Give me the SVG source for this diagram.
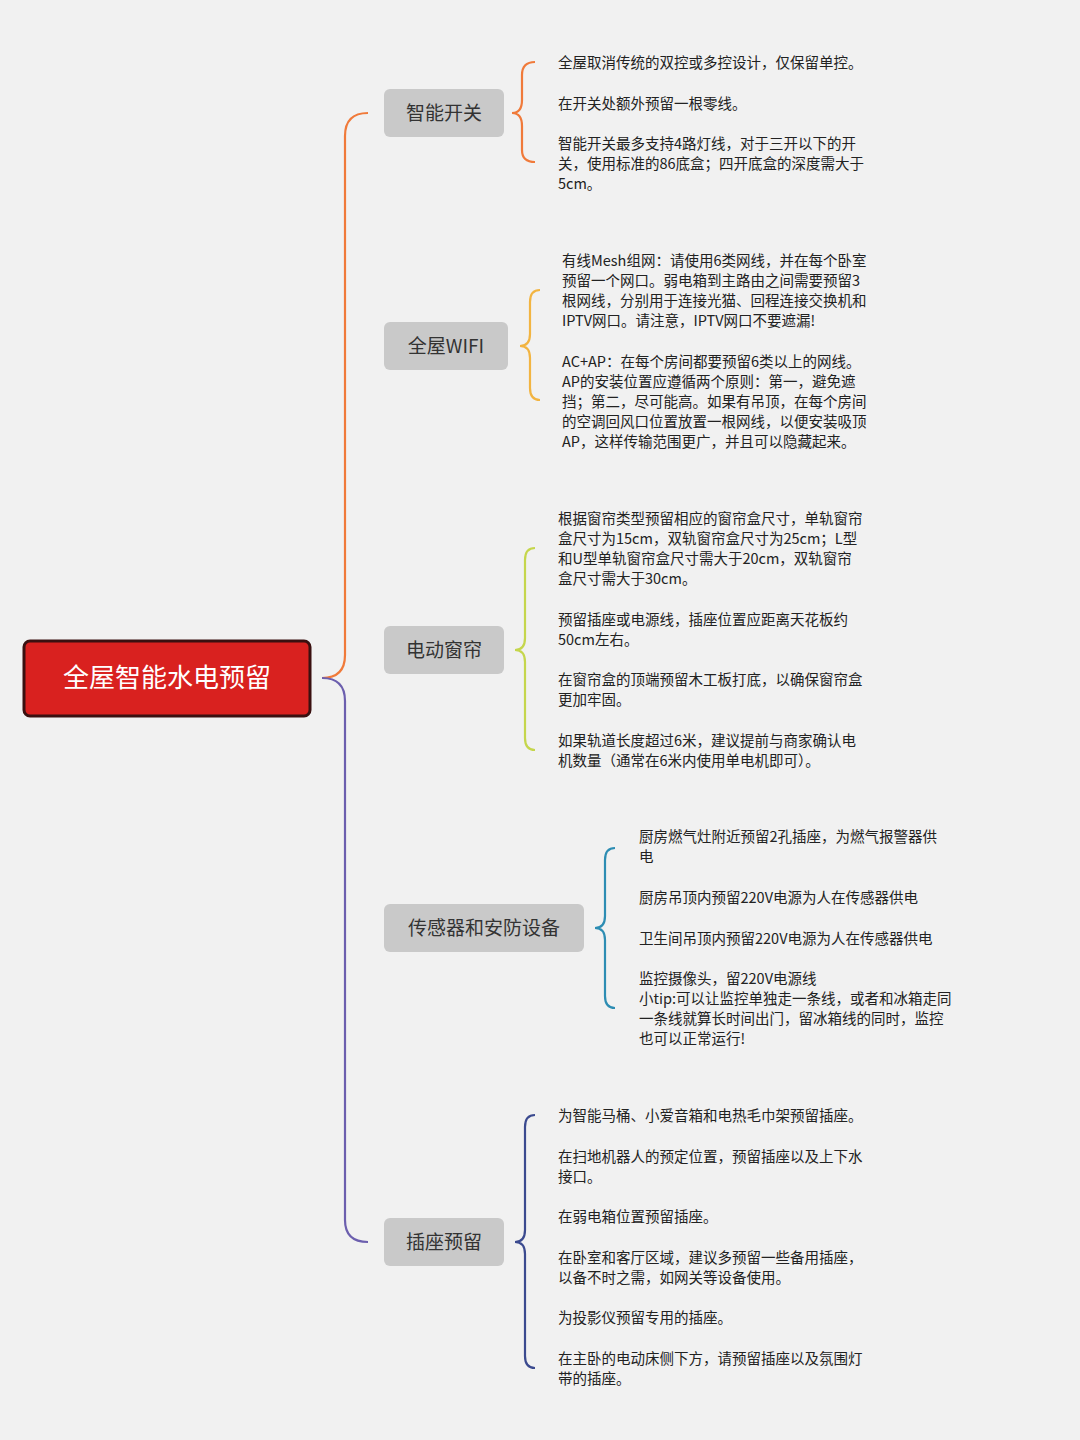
<svg xmlns="http://www.w3.org/2000/svg" width="1080" height="1440" viewBox="0 0 1080 1440">
<style>
.n rect{fill:#c9c9c9}
.n text{font-family:"Noto Sans CJK SC","Noto Sans",sans-serif;font-size:19px;fill:#333;text-anchor:middle}
.t{font-family:"Noto Sans CJK SC","Noto Sans",sans-serif;font-size:14.5px;fill:#222}
.c path{fill:none;stroke-width:2.2}
</style>
<rect width="1080" height="1440" fill="#f1f1f1"/>
<g class="c">
<path d="M322 678 Q345 678 345 655 L345 136 Q345 113 368 113" stroke="#f07a3a"/>
<path d="M322 678 Q345 678 345 701 L345 1220 Q345 1242 368 1242" stroke="#6c5fae"/>
<path d="M535 62 Q522 62 522 75 L522 100 Q522 113 512 113 Q522 113 522 126 L522 150 Q522 162 535 162" stroke="#f07a3a"/>
<path d="M540 290 Q530 290 530 302 L530 334 Q530 346 520 346 Q530 346 530 358 L530 388 Q530 400 540 400" stroke="#f2b441"/>
<path d="M535 548 Q525 548 525 560 L525 638 Q525 650 515 650 Q525 650 525 662 L525 738 Q525 750 535 750" stroke="#c5d64c"/>
<path d="M615 848 Q605 848 605 860 L605 916 Q605 928 595 928 Q605 928 605 940 L605 996 Q605 1008 615 1008" stroke="#2d8db3"/>
<path d="M535 1115 Q525 1115 525 1127 L525 1230 Q525 1242 515 1242 Q525 1242 525 1254 L525 1356 Q525 1368 535 1368" stroke="#3b4a8f"/>
</g>
<g id="root"><rect x="24" y="641" width="286" height="75" rx="6" fill="#d9211f" stroke="#3a1010" stroke-width="3"/><text x="167" y="687" font-family="Noto Sans CJK SC,sans-serif" font-size="26" fill="#fff" text-anchor="middle">全屋智能水电预留</text></g>
<g id="n1" class="n"><rect x="384" y="89" width="120" height="48" rx="6"/><text x="444" y="120">智能开关</text></g>
<g id="n2" class="n"><rect x="384" y="322" width="124" height="48" rx="6"/><text x="446" y="353">全屋WIFI</text></g>
<g id="n3" class="n"><rect x="384" y="626" width="120" height="48" rx="6"/><text x="444" y="657">电动窗帘</text></g>
<g id="n4" class="n"><rect x="384" y="904" width="200" height="48" rx="6"/><text x="484" y="935">传感器和安防设备</text></g>
<g id="n5" class="n"><rect x="384" y="1218" width="120" height="48" rx="6"/><text x="444" y="1249">插座预留</text></g>
<g class="t">
<text x="558" y="68">全屋取消传统的双控或多控设计，仅保留单控。</text>
<text x="558" y="109">在开关处额外预留一根零线。</text>
<text x="558" y="149">智能开关最多支持4路灯线，对于三开以下的开</text>
<text x="558" y="169">关，使用标准的86底盒；四开底盒的深度需大于</text>
<text x="558" y="189">5cm。</text>
<text x="562" y="266">有线Mesh组网：请使用6类网线，并在每个卧室</text>
<text x="562" y="286">预留一个网口。弱电箱到主路由之间需要预留3</text>
<text x="562" y="306">根网线，分别用于连接光猫、回程连接交换机和</text>
<text x="562" y="326">IPTV网口。请注意，IPTV网口不要遮漏!</text>
<text x="562" y="367">AC+AP：在每个房间都要预留6类以上的网线。</text>
<text x="562" y="387">AP的安装位置应遵循两个原则：第一，避免遮</text>
<text x="562" y="407">挡；第二，尽可能高。如果有吊顶，在每个房间</text>
<text x="562" y="427">的空调回风口位置放置一根网线，以便安装吸顶</text>
<text x="562" y="447">AP，这样传输范围更广，并且可以隐藏起来。</text>
<text x="558" y="524">根据窗帘类型预留相应的窗帘盒尺寸，单轨窗帘</text>
<text x="558" y="544">盒尺寸为15cm，双轨窗帘盒尺寸为25cm；L型</text>
<text x="558" y="564">和U型单轨窗帘盒尺寸需大于20cm，双轨窗帘</text>
<text x="558" y="584">盒尺寸需大于30cm。</text>
<text x="558" y="625">预留插座或电源线，插座位置应距离天花板约</text>
<text x="558" y="645">50cm左右。</text>
<text x="558" y="685">在窗帘盒的顶端预留木工板打底，以确保窗帘盒</text>
<text x="558" y="705">更加牢固。</text>
<text x="558" y="746">如果轨道长度超过6米，建议提前与商家确认电</text>
<text x="558" y="766">机数量（通常在6米内使用单电机即可）。</text>
<text x="639" y="842">厨房燃气灶附近预留2孔插座，为燃气报警器供</text>
<text x="639" y="862">电</text>
<text x="639" y="903">厨房吊顶内预留220V电源为人在传感器供电</text>
<text x="639" y="944">卫生间吊顶内预留220V电源为人在传感器供电</text>
<text x="639" y="984">监控摄像头，留220V电源线</text>
<text x="639" y="1004">小tip:可以让监控单独走一条线，或者和冰箱走同</text>
<text x="639" y="1024">一条线就算长时间出门，留冰箱线的同时，监控</text>
<text x="639" y="1044">也可以正常运行!</text>
<text x="558" y="1121">为智能马桶、小爱音箱和电热毛巾架预留插座。</text>
<text x="558" y="1162">在扫地机器人的预定位置，预留插座以及上下水</text>
<text x="558" y="1182">接口。</text>
<text x="558" y="1222">在弱电箱位置预留插座。</text>
<text x="558" y="1263">在卧室和客厅区域，建议多预留一些备用插座，</text>
<text x="558" y="1283">以备不时之需，如网关等设备使用。</text>
<text x="558" y="1323">为投影仪预留专用的插座。</text>
<text x="558" y="1364">在主卧的电动床侧下方，请预留插座以及氛围灯</text>
<text x="558" y="1384">带的插座。</text>
</g>
</svg>
